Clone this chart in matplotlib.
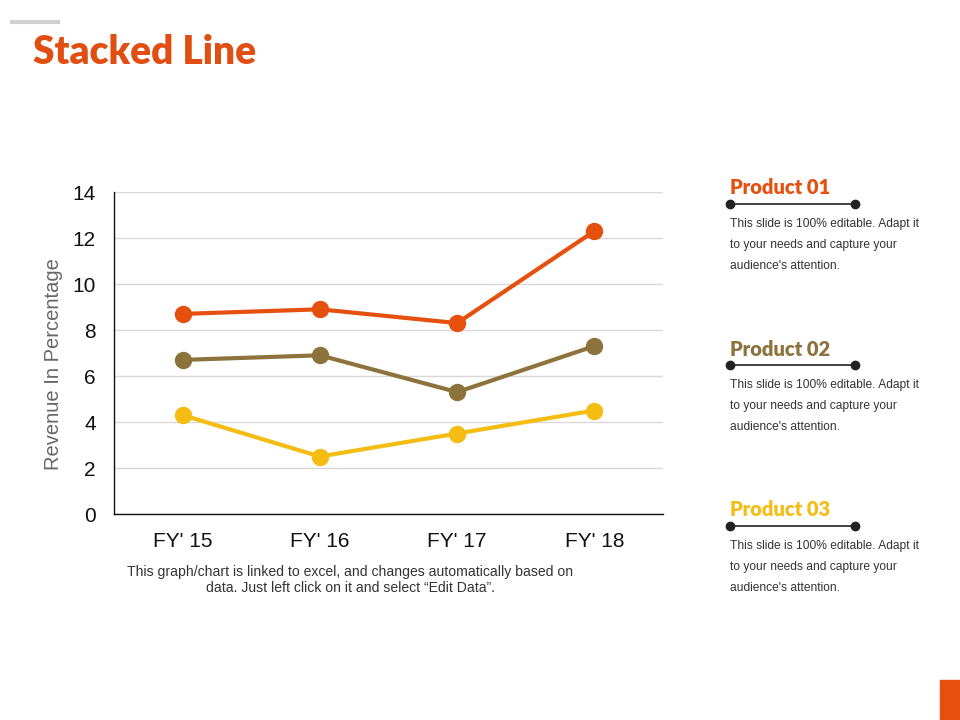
import matplotlib
matplotlib.use("Agg")
import matplotlib.pyplot as plt
import numpy as np

plt.rcParams["font.family"] = ["Liberation Sans", "DejaVu Sans"]

categories = ["FY' 15", "FY' 16", "FY' 17", "FY' 18"]
# stacked line: each series sits on top of the ones below it
product_03 = [4.3, 2.5, 3.5, 4.5]
product_02 = [2.4, 4.4, 1.8, 2.8]
product_01 = [2.0, 2.0, 3.0, 5.0]
y_ticks = [0, 2, 4, 6, 8, 10, 12, 14]

series_names = ["Product 01", "Product 02", "Product 03"]
colors = {"Product 01": "#E5500F", "Product 02": "#8C733C", "Product 03": "#F5BC14"}
desc = "This slide is 100% editable. Adapt it\nto your needs and capture your\naudience's attention."

stack = np.cumsum([product_03, product_02, product_01], axis=0)
lines = {"Product 03": stack[0], "Product 02": stack[1], "Product 01": stack[2]}

W, H = 960, 720
fig = plt.figure(figsize=(9.6, 7.2), dpi=100)


def fx(px):
    return px / W


def fy(py):
    return 1 - py / H


# header
fig.add_artist(plt.Line2D([fx(12), fx(58)], [fy(22), fy(22)], color="#D0D0D0", lw=3))
fig.text(fx(33), fy(52), "Stacked Line", color="#E04E12", fontsize=28,
         fontweight="heavy", family=["Lato", "DejaVu Sans"], va="center", ha="left")

# main chart
ax = fig.add_axes([fx(114), fy(514), (663 - 114) / W, (514 - 192) / H])
x = np.arange(len(categories))
for name in ["Product 03", "Product 02", "Product 01"]:
    ax.plot(x, lines[name], color=colors[name], lw=3, marker="o", ms=11.5,
            solid_capstyle="round", zorder=3)

ax.set_xlim(-0.5, len(categories) - 0.5)
ax.set_ylim(0, 14)
ax.set_yticks(y_ticks)
ax.set_xticks(x)
ax.set_xticklabels(categories)
ax.tick_params(axis="both", length=0, labelsize=15, colors="#111111")
ax.tick_params(axis="y", pad=13)
ax.tick_params(axis="x", pad=13)
ax.grid(axis="y", color="#D9D9D9", lw=1)
ax.set_axisbelow(True)
for s in ["top", "right"]:
    ax.spines[s].set_visible(False)
for s in ["left", "bottom"]:
    ax.spines[s].set_color("#111111")
    ax.spines[s].set_linewidth(1)
ax.set_ylabel("Revenue In Percentage", fontsize=14.5, color="#666666")
ax.yaxis.set_label_coords(-0.093, 0.466)

fig.text(fx(350), fy(580),
         "This graph/chart is linked to excel, and changes automatically based on\n"
         "data. Just left click on it and select \u201cEdit Data\u201d.",
         ha="center", va="center", fontsize=10.1, color="#333333", linespacing=1.1)

# side legend blocks
block_tops = [188, 349, 510]
for name, top in zip(series_names, block_tops):
    fig.text(fx(730), fy(top), name, color=colors[name], fontsize=14.5,
             fontweight="heavy", family=["Lato", "DejaVu Sans"], va="center", ha="left")
    ly = fy(top + 16)
    fig.add_artist(plt.Line2D([fx(730), fx(855)], [ly, ly], color="#222222", lw=1.2,
                              marker="o", ms=6, markevery=[0, 1]))
    fig.text(fx(730), fy(top + 30), desc, fontsize=8.65, color="#333333",
             va="top", ha="left", linespacing=2.0)

# corner accent
fig.add_artist(plt.Rectangle((fx(940), 0), fx(20), fy(680), color="#E5500F",
                             transform=fig.transFigure))

fig.savefig("out.png", dpi=100)
